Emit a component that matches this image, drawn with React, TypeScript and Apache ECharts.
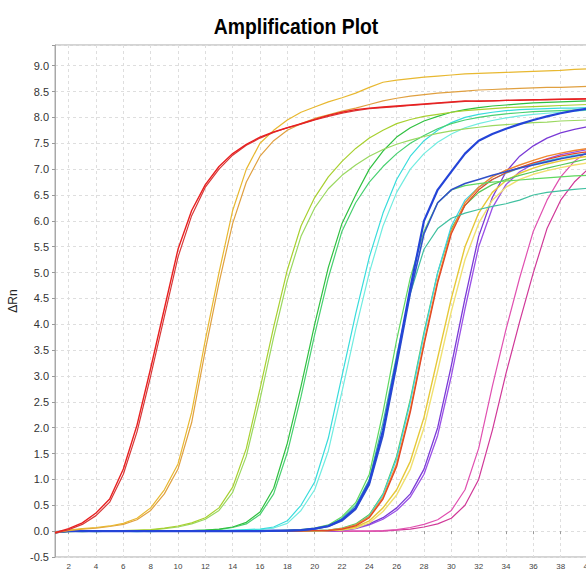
import React, { useEffect, useRef } from 'react';
import * as echarts from 'echarts';

const CYCLES = [1,2,3,4,5,6,7,8,9,10,11,12,13,14,15,16,17,18,19,20,21,22,23,24,25,26,27,28,29,30,31,32,33,34,35,36,37,38,39,40];
const X_TICKS = [2,4,6,8,10,12,14,16,18,20,22,24,26,28,30,32,34,36,38,40];

const red1 = [-0.03,0.05,0.16,0.35,0.62,1.2,2.05,3.15,4.3,5.45, 6.2,6.7,7.05,7.3,7.48,7.62,7.72,7.8,7.88,7.96, 8.04,8.1,8.15,8.18,8.2,8.22,8.24,8.26,8.28,8.3, 8.32,8.31,8.32,8.33,8.33,8.34,8.34,8.35,8.35,8.36];
const red2 = [-0.04,0.03,0.13,0.3,0.56,1.1,1.92,3.0,4.15,5.3, 6.1,6.65,7.0,7.27,7.46,7.6,7.71,7.8,7.87,7.95, 8.02,8.08,8.13,8.17,8.19,8.21,8.23,8.25,8.27,8.29, 8.31,8.32,8.32,8.33,8.34,8.34,8.35,8.35,8.36,8.36];
const orangeU = [-0.02,0.02,0.05,0.07,0.1,0.15,0.25,0.45,0.8,1.3, 2.3,3.7,5.0,6.2,7.0,7.5,7.75,7.95,8.1,8.2, 8.3,8.38,8.47,8.58,8.68,8.72,8.75,8.78,8.8,8.82, 8.84,8.85,8.86,8.87,8.88,8.89,8.9,8.91,8.93,8.94];
const orangeL = [-0.03,0.01,0.04,0.06,0.09,0.13,0.22,0.4,0.72,1.2, 2.1,3.5,4.8,5.95,6.75,7.25,7.55,7.75,7.88,7.98, 8.05,8.12,8.18,8.25,8.32,8.37,8.41,8.44,8.47,8.49, 8.51,8.53,8.54,8.55,8.56,8.57,8.58,8.58,8.59,8.6];
const ygreen1 = [-0.02,-0.01,0,0.01,0,0.01,0.02,0.03,0.06,0.1, 0.16,0.26,0.45,0.85,1.6,2.75,3.95,5.05,5.9,6.45, 6.85,7.15,7.4,7.6,7.75,7.88,7.96,8.02,8.06,8.1, 8.13,8.15,8.17,8.19,8.2,8.21,8.22,8.23,8.24,8.25];
const ygreen2 = [-0.03,0,0.01,0,0.01,0,0.01,0.02,0.05,0.08, 0.14,0.23,0.4,0.75,1.45,2.55,3.75,4.85,5.7,6.25, 6.62,6.88,7.08,7.25,7.38,7.48,7.56,7.63,7.69,7.74, 7.78,7.81,7.84,7.86,7.88,7.9,7.91,7.93,7.94,7.95];
const green1 = [-0.02,0,-0.01,0,0.01,0,0,0.01,0,0.01, 0.01,0.02,0.04,0.08,0.17,0.37,0.83,1.7,2.8,4.0, 5.1,5.95,6.5,7.0,7.35,7.62,7.8,7.93,8.02,8.1, 8.15,8.19,8.22,8.24,8.26,8.28,8.29,8.3,8.31,8.32];
const green2 = [-0.03,0,0,-0.01,0,0.01,0,0,0.01,0, 0.01,0.02,0.03,0.07,0.14,0.32,0.72,1.52,2.6,3.8, 4.9,5.8,6.35,6.75,7.05,7.3,7.5,7.65,7.78,7.88, 7.95,8.0,8.04,8.07,8.09,8.11,8.12,8.13,8.14,8.15];
const cyan1 = [-0.02,0,0,0.01,0,0,-0.01,0,0,0.01, 0,0.01,0.01,0.02,0.03,0.04,0.08,0.2,0.5,0.95, 1.8,3.0,4.2,5.3,6.15,6.8,7.25,7.55,7.75,7.9, 8.0,8.06,8.1,8.13,8.15,8.16,8.17,8.18,8.18,8.19];
const cyan2 = [-0.03,-0.01,0,0,0.01,0,0,-0.01,0,0, 0.01,0,0.01,0.01,0.02,0.03,0.06,0.15,0.4,0.8, 1.55,2.7,3.9,5.0,5.9,6.55,7.0,7.3,7.52,7.68, 7.8,7.88,7.94,7.99,8.03,8.06,8.08,8.1,8.12,8.14];
const fTeal = [-0.03,0,0,0,0,0,0,0,0,0, 0,0,0,0,0.01,0,0.01,0.01,0.02,0.05, 0.1,0.25,0.5,1.0,2.1,3.4,4.6,5.45,5.85,6.05, 6.15,6.22,6.28,6.33,6.4,6.5,6.55,6.58,6.61,6.63];
const fGreen = [-0.02,0,0,0,0,0,0,0,0,0, 0,0,0,0,0,0.01,0.01,0.02,0.03,0.06, 0.12,0.28,0.55,1.1,2.3,3.7,4.9,5.8,6.35,6.6, 6.68,6.72,6.75,6.77,6.79,6.81,6.83,6.85,6.87,6.88];
const blueU = [-0.02,0,0,0,0,0,0,0,0,0, 0,0,0,0,0,0,0.01,0.01,0.02,0.05, 0.1,0.22,0.45,0.95,1.95,3.3,4.7,6.0,6.6,6.95, 7.3,7.55,7.68,7.78,7.87,7.95,8.02,8.08,8.13,8.17];
const blueL = [-0.03,0,0,0,0,0,0,0,0,0, 0,0,0,0,0,0,0,0.01,0.02,0.04, 0.09,0.2,0.42,0.9,1.85,3.2,4.6,5.75,6.35,6.6, 6.72,6.8,6.88,6.95,7.02,7.08,7.14,7.2,7.25,7.3];
const gCyan = [-0.02,0,0,0,0,0,0,0,0,0, 0,0,0,0,0,0,0,0,0.01,0.01, 0.02,0.05,0.12,0.3,0.7,1.4,2.5,3.8,5.0,5.9, 6.4,6.65,6.8,6.92,7.02,7.1,7.16,7.22,7.27,7.3];
const gOrange = [-0.03,0,0,0,0,0,0,0,0,0, 0,0,0,0,0,0,0,0,0.01,0.01, 0.02,0.05,0.12,0.28,0.65,1.3,2.35,3.65,4.85,5.8, 6.35,6.65,6.85,6.98,7.08,7.17,7.25,7.31,7.36,7.4];
const gRed = [-0.03,0,0,0,0,0,0,0,0,0, 0,0,0,0,0,0,0,0,0,0.01, 0.01,0.04,0.1,0.26,0.62,1.25,2.3,3.6,4.8,5.75, 6.3,6.6,6.8,6.93,7.03,7.12,7.19,7.25,7.3,7.34];
const gGreen = [-0.02,0,0,0,0,0,0,0,0,0, 0,0,0,0,0,0,0,0,0.01,0.01, 0.02,0.06,0.14,0.32,0.72,1.45,2.55,3.85,5.0,5.85, 6.3,6.55,6.7,6.8,6.88,6.95,7.02,7.08,7.14,7.2];
const yellow1 = [-0.02,0,0,0,0,0,0,0,0,0, 0,0,0,0,0,0,0,0,0,0, 0.01,0.03,0.08,0.2,0.45,0.8,1.35,2.2,3.35,4.5, 5.5,6.15,6.55,6.78,6.92,7.02,7.1,7.16,7.21,7.25];
const yellow2 = [-0.03,0,0,0,0,0,0,0,0,0, 0,0,0,0,0,0,0,0,0,0, 0.01,0.02,0.06,0.16,0.38,0.7,1.2,2.0,3.1,4.25, 5.25,5.95,6.4,6.65,6.8,6.9,6.97,7.03,7.08,7.12];
const purple1 = [-0.02,0,0,0,0,0,0,0,0,0, 0,0,0,0,0,0,0,0,0,0, 0,0.02,0.06,0.14,0.26,0.45,0.72,1.2,2.0,3.2, 4.5,5.7,6.45,6.95,7.25,7.45,7.6,7.7,7.77,7.82];
const purple2 = [-0.03,0,0,0,0,0,0,0,0,0, 0,0,0,0,0,0,0,0,0,0, 0,0.01,0.05,0.12,0.23,0.4,0.66,1.1,1.85,3.0, 4.3,5.5,6.25,6.7,6.95,7.1,7.2,7.28,7.33,7.38];
const magenta1 = [-0.02,0,0,0,0,0,0,0,0,0, 0,0,0,0,0,0,0,0,0,0, 0,0,0,0,0.01,0.03,0.07,0.13,0.22,0.4, 0.8,1.6,2.8,3.9,4.9,5.8,6.4,6.85,7.15,7.35];
const magenta2 = [-0.03,0,0,0,0,0,0,0,0,0, 0,0,0,0,0,0,0,0,0,0, 0,0,0,0,0,0.02,0.04,0.08,0.14,0.25, 0.5,1.0,1.95,3.05,4.05,5.0,5.85,6.4,6.75,7.0];

const CURVES: { name: string; values: number[]; color: string; width: number }[] = [
  { name: 'magenta2', values: magenta2, color: '#d03898', width: 1.2 },
  { name: 'magenta1', values: magenta1, color: '#e050b0', width: 1.2 },
  { name: 'purple2', values: purple2, color: '#9a50e6', width: 1.3 },
  { name: 'purple1', values: purple1, color: '#7a3ad6', width: 1.3 },
  { name: 'yellow2', values: yellow2, color: '#f0e070', width: 1.4 },
  { name: 'yellow1', values: yellow1, color: '#e6c838', width: 1.4 },
  { name: 'gGreen', values: gGreen, color: '#58c858', width: 1.2 },
  { name: 'gCyan', values: gCyan, color: '#40d4e4', width: 1.2 },
  { name: 'gOrange', values: gOrange, color: '#f08830', width: 1.4 },
  { name: 'gRed', values: gRed, color: '#e04828', width: 1.3 },
  { name: 'fTeal', values: fTeal, color: '#40c0a0', width: 1.2 },
  { name: 'fGreen', values: fGreen, color: '#60d860', width: 1.2 },
  { name: 'blueL', values: blueL, color: '#3050c8', width: 1.6 },
  { name: 'cyan2', values: cyan2, color: '#70ece0', width: 1.2 },
  { name: 'cyan1', values: cyan1, color: '#38dcdc', width: 1.2 },
  { name: 'green2', values: green2, color: '#48d070', width: 1.2 },
  { name: 'green1', values: green1, color: '#30c040', width: 1.2 },
  { name: 'ygreen2', values: ygreen2, color: '#9ad860', width: 1.2 },
  { name: 'ygreen1', values: ygreen1, color: '#a8d030', width: 1.2 },
  { name: 'blueU', values: blueU, color: '#2444d8', width: 2.2 },
  { name: 'orangeL', values: orangeL, color: '#e0a040', width: 1.2 },
  { name: 'orangeU', values: orangeU, color: '#e8b830', width: 1.2 },
  { name: 'red2', values: red2, color: '#d83838', width: 1.2 },
  { name: 'red1', values: red1, color: '#e82020', width: 1.4 },
];

export default function App() {
  const ref = useRef<HTMLDivElement>(null);
  useEffect(() => {
    if (!ref.current) return;
    const chart = echarts.init(ref.current, null, { renderer: 'svg' });
    chart.setOption({
      animation: false,
      backgroundColor: '#ffffff',
      graphic: [
        {
          type: 'text',
          x: 296,
          y: 15,
          scaleX: 0.88,
          style: {
            text: 'Amplification Plot',
            fontFamily: "'Liberation Sans', Arial, sans-serif",
            fontWeight: 'bold',
            fontSize: 22,
            fill: '#000',
            align: 'center',
            verticalAlign: 'top',
          },
        },
      ],
      grid: {
        left: 55,
        right: 12,
        top: 45,
        bottom: 14,
        show: true,
        borderColor: '#a8a8a8',
        borderWidth: 1,
        outerBoundsMode: 'none',
      },
      xAxis: {
        type: 'value',
        min: 1,
        max: 40,
        axisLine: { show: false },
        axisTick: { show: true, length: 3, customValues: X_TICKS, lineStyle: { color: '#999' } },
        axisLabel: {
          customValues: X_TICKS,
          fontSize: 8,
          color: '#444',
          margin: 5,
          fontFamily: 'Liberation Sans, Arial, sans-serif',
        },
        splitLine: { show: true, lineStyle: { color: '#dedede', type: [3, 3], width: 1 } },
      },
      yAxis: {
        type: 'value',
        min: -0.5,
        max: 9.4,
        interval: 0.5,
        name: 'ΔRn',
        nameLocation: 'middle',
        nameGap: 32,
        nameTextStyle: { fontSize: 12, color: '#222', fontFamily: 'Liberation Sans, Arial, sans-serif' },
        axisLine: { show: true, lineStyle: { color: '#a8a8a8' } },
        axisTick: { show: true, length: 3, lineStyle: { color: '#999' } },
        axisLabel: {
          fontSize: 11,
          color: '#333',
          margin: 6,
          fontFamily: 'Liberation Sans, Arial, sans-serif',
          formatter: (v: number) => (Math.abs(v * 2 - Math.round(v * 2)) < 1e-6 && v <= 9.01 ? v.toFixed(1) : ''),
        },
        splitLine: { show: true, lineStyle: { color: '#dedede', type: [3, 3], width: 1 } },
      },
      series: CURVES.map((c) => ({
        name: c.name,
        type: 'line',
        data: CYCLES.map((x, i) => [x, c.values[i]]),
        symbol: 'none',
        smooth: false,
        lineStyle: { color: c.color, width: c.width },
        itemStyle: { color: c.color },
      })),
    });
    return () => chart.dispose();
  }, []);
  return (
    <div
      ref={ref}
      style={{ position: 'fixed', left: 0, top: 0, width: 600, height: 571, background: '#fff' }}
    />
  );
}
